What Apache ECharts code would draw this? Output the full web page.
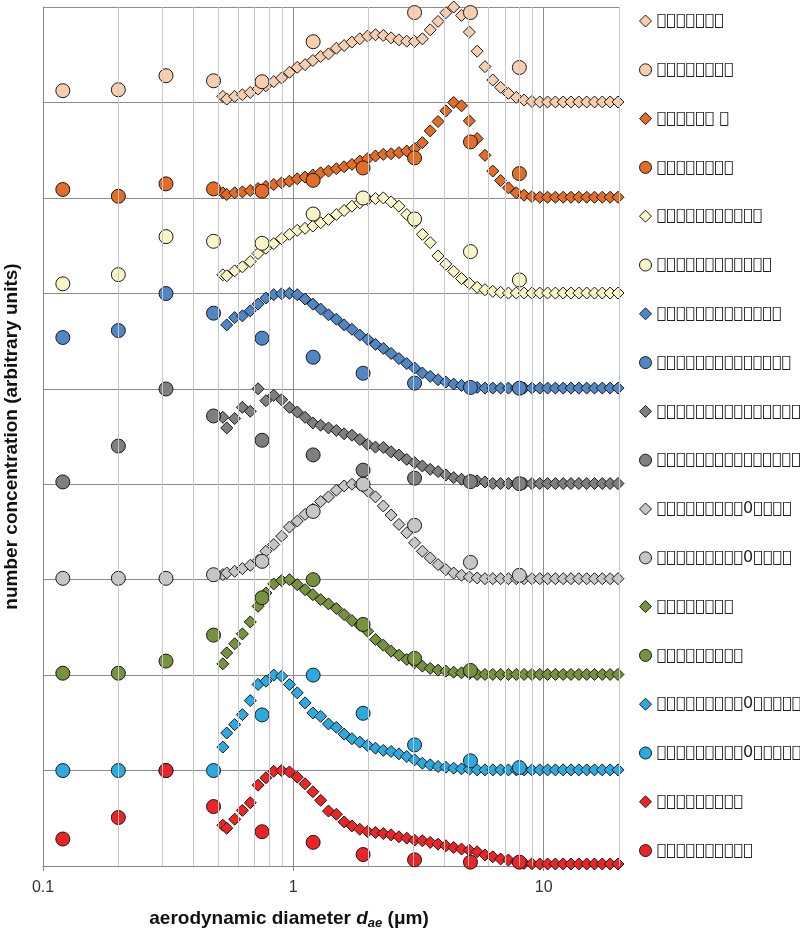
<!DOCTYPE html>
<html>
<head>
<meta charset="utf-8">
<script src="https://cdn.jsdelivr.net/npm/echarts@6/dist/echarts.min.js"></script>
<style>html,body{margin:0;padding:0;background:#fff}#c{width:800px;height:932px}</style>
</head>
<body>
<div id="c"></div>
<script>
// APS channel midpoints (µm) used by the diamond series
const apsSizes = [0.523, 0.542, 0.583, 0.626, 0.673, 0.723, 0.777, 0.835, 0.898, 0.965,
  1.037, 1.114, 1.197, 1.286, 1.382, 1.486, 1.596, 1.715, 1.843, 1.981,
  2.129, 2.288, 2.458, 2.642, 2.839, 3.051, 3.278, 3.523, 3.786, 4.068,
  4.371, 4.698, 5.048, 5.425, 5.829, 6.264, 6.732, 7.234, 7.774, 8.354,
  8.977, 9.647, 10.37, 11.14, 11.97, 12.86, 13.82, 14.86, 15.96, 17.15, 18.43, 19.81];
// impactor stage diameters (µm) used by the circle series
const impSizes = [0.12, 0.2, 0.31, 0.48, 0.75, 1.2, 1.9, 3.05, 5.1, 8.0];

// normalized diamond series (one per band, top to bottom)
const peachD = [0.063, 0.035, 0.063, 0.081, 0.105, 0.14, 0.175, 0.218, 0.256, 0.316, 0.368, 0.396, 0.439, 0.481, 0.509, 0.568, 0.596, 0.632, 0.667, 0.695, 0.709, 0.702, 0.677, 0.656, 0.642, 0.639, 0.667, 0.761, 0.849, 0.94, 1.0, 0.912, 0.737, 0.537, 0.375, 0.235, 0.158, 0.095, 0.053, 0.025, 0.01, 0.005, 0.005, 0.005, 0.005, 0.005, 0.005, 0.005, 0.005, 0.005, 0.005, 0.005];
const orangeD = [0.053, 0.035, 0.053, 0.063, 0.077, 0.098, 0.119, 0.14, 0.158, 0.175, 0.2, 0.218, 0.239, 0.263, 0.281, 0.305, 0.326, 0.351, 0.386, 0.411, 0.439, 0.456, 0.463, 0.474, 0.491, 0.516, 0.579, 0.702, 0.8, 0.912, 1.0, 0.965, 0.807, 0.621, 0.446, 0.281, 0.182, 0.105, 0.053, 0.028, 0.014, 0.007, 0.007, 0.007, 0.007, 0.007, 0.007, 0.007, 0.007, 0.007, 0.007, 0.007];
const yellowD = [0.194, 0.184, 0.236, 0.278, 0.333, 0.417, 0.472, 0.521, 0.573, 0.618, 0.66, 0.681, 0.705, 0.74, 0.774, 0.826, 0.868, 0.913, 0.948, 0.983, 0.993, 1.0, 0.958, 0.913, 0.826, 0.74, 0.618, 0.531, 0.392, 0.306, 0.23, 0.155, 0.104, 0.063, 0.038, 0.021, 0.01, 0.003, 0.003, 0.003, 0.003, 0.003, 0.003, 0.003, 0.003, 0.003, 0.003, 0.003, 0.003, 0.003, 0.003, 0.003];
const blueD = [null, 0.669, 0.746, 0.764, 0.817, 0.887, 0.951, 0.986, 0.995, 1.0, 0.986, 0.94, 0.887, 0.835, 0.775, 0.729, 0.669, 0.623, 0.563, 0.518, 0.465, 0.423, 0.37, 0.317, 0.264, 0.218, 0.165, 0.13, 0.095, 0.07, 0.049, 0.035, 0.025, 0.014, 0.007, 0.007, 0.007, 0.007, 0.007, 0.007, 0.007, 0.007, 0.007, 0.007, 0.007, 0.007, 0.007, 0.007, 0.007, 0.007, 0.007, 0.007];
const darkD = [0.701, 0.59, 0.688, 0.806, 0.764, 1.0, 0.875, 0.931, 0.885, 0.806, 0.757, 0.701, 0.642, 0.618, 0.59, 0.563, 0.528, 0.514, 0.469, 0.417, 0.389, 0.385, 0.34, 0.306, 0.26, 0.226, 0.191, 0.156, 0.132, 0.097, 0.069, 0.052, 0.042, 0.035, 0.024, 0.007, 0.007, 0.007, 0.007, 0.007, 0.007, 0.007, 0.007, 0.007, 0.007, 0.007, 0.007, 0.007, 0.007, 0.007, 0.007, 0.007];
const lightD = [0.053, 0.07, 0.088, 0.116, 0.151, 0.2, 0.298, 0.368, 0.456, 0.551, 0.614, 0.684, 0.737, 0.818, 0.867, 0.937, 0.982, 1.0, 0.993, 0.93, 0.867, 0.772, 0.677, 0.579, 0.491, 0.386, 0.298, 0.228, 0.158, 0.105, 0.07, 0.046, 0.028, 0.018, 0.01, 0.01, 0.01, 0.01, 0.01, 0.01, 0.01, 0.01, 0.01, 0.01, 0.01, 0.01, 0.01, 0.01, 0.01, 0.01, 0.01, 0.01];
const greenD = [0.118, 0.233, 0.328, 0.432, 0.557, 0.721, 0.86, 0.955, 0.99, 1.0, 0.948, 0.895, 0.843, 0.791, 0.746, 0.697, 0.634, 0.571, 0.523, 0.46, 0.373, 0.314, 0.251, 0.209, 0.164, 0.129, 0.094, 0.07, 0.052, 0.042, 0.031, 0.024, 0.017, 0.007, 0.007, 0.007, 0.007, 0.007, 0.007, 0.007, 0.007, 0.007, 0.007, 0.007, 0.007, 0.007, 0.007, 0.007, 0.007, 0.007, 0.007, 0.007];
const cyanD = [0.246, 0.393, 0.481, 0.586, 0.733, 0.902, 0.937, 1.0, 0.989, 0.902, 0.814, 0.709, 0.604, 0.568, 0.488, 0.453, 0.382, 0.333, 0.298, 0.263, 0.235, 0.211, 0.2, 0.175, 0.147, 0.112, 0.077, 0.06, 0.042, 0.035, 0.025, 0.018, 0.014, 0.007, 0.007, 0.007, 0.007, 0.007, 0.007, 0.007, 0.007, 0.007, 0.007, 0.007, 0.007, 0.007, 0.007, 0.007, 0.007, 0.007, 0.007, 0.007];
const redD = [0.427, 0.396, 0.49, 0.583, 0.663, 0.847, 0.924, 0.993, 1.0, 0.986, 0.931, 0.861, 0.778, 0.688, 0.576, 0.542, 0.462, 0.42, 0.385, 0.361, 0.351, 0.34, 0.326, 0.306, 0.292, 0.271, 0.264, 0.247, 0.229, 0.212, 0.194, 0.177, 0.165, 0.149, 0.115, 0.097, 0.073, 0.063, 0.045, 0.028, 0.024, 0.021, 0.021, 0.021, 0.021, 0.021, 0.021, 0.021, 0.021, 0.021, 0.021, 0.021];

// circle series (impactor)
const peachC = [0.123, 0.133, 0.28, 0.227, 0.217, 0.636, null, 0.942, 0.942, 0.366];
const orangeC = [0.088, 0.017, 0.147, 0.094, 0.07, 0.184, 0.314, 0.419, 0.586, 0.255];
const yellowC = [0.10, 0.196, 0.594, 0.545, 0.524, 0.831, 0.999, 0.779, 0.437, 0.14];
const blueC = [0.537, 0.61, 0.998, 0.792, 0.53, 0.331, 0.163, 0.059, 0.014, 0.006];
const darkC = [0.024, 0.40, 0.998, 0.715, 0.461, 0.307, 0.147, 0.063, 0.027, 0.006];
const lightC = [0.014, 0.014, 0.014, 0.052, 0.192, 0.715, 1.0, 0.569, 0.181, 0.045];
const greenC = [0.02, 0.02, 0.147, 0.419, 0.81, 1.0, 0.531, 0.175, 0.049, null];
const cyanC = [0, 0, 0, 0, 0.583, 1.0, 0.6, 0.269, 0.102, 0.031];
const redC = [0.283, 0.508, 1.0, 0.623, 0.359, 0.248, 0.12, 0.065, 0.04, 0.04];

// legend labels (as they appear: unrenderable glyphs)
const seriesNames = [
  '\uE000\uE000\uE000\uE000\uE000\uE000\uE000',
  '\uE001\uE001\uE001\uE001\uE001\uE001\uE001\uE001',
  '\uE002\uE002\uE002\uE002\uE002\uE002 \uE002',
  '\uE003\uE003\uE003\uE003\uE003\uE003\uE003\uE003',
  '\uE004\uE004\uE004\uE004\uE004\uE004\uE004\uE004\uE004\uE004\uE004',
  '\uE005\uE005\uE005\uE005\uE005\uE005\uE005\uE005\uE005\uE005\uE005\uE005',
  '\uE006\uE006\uE006\uE006\uE006\uE006\uE006\uE006\uE006\uE006\uE006\uE006\uE006',
  '\uE007\uE007\uE007\uE007\uE007\uE007\uE007\uE007\uE007\uE007\uE007\uE007\uE007\uE007',
  '\uE008\uE008\uE008\uE008\uE008\uE008\uE008\uE008\uE008\uE008\uE008\uE008\uE008\uE008\uE008\uE008',
  '\uE009\uE009\uE009\uE009\uE009\uE009\uE009\uE009\uE009\uE009\uE009\uE009\uE009\uE009\uE009\uE009',
  '\uE00A\uE00A\uE00A\uE00A\uE00A\uE00A\uE00A\uE00A\uE00A0\uE00A\uE00A\uE00A\uE00A',
  '\uE00B\uE00B\uE00B\uE00B\uE00B\uE00B\uE00B\uE00B\uE00B0\uE00B\uE00B\uE00B\uE00B',
  '\uE00C\uE00C\uE00C\uE00C\uE00C\uE00C\uE00C\uE00C',
  '\uE00D\uE00D\uE00D\uE00D\uE00D\uE00D\uE00D\uE00D\uE00D',
  '\uE00E\uE00E\uE00E\uE00E\uE00E\uE00E\uE00E\uE00E\uE00E0\uE00E\uE00E\uE00E\uE00E\uE00E\uE00E',
  '\uE00F\uE00F\uE00F\uE00F\uE00F\uE00F\uE00F\uE00F\uE00F0\uE00F\uE00F\uE00F\uE00F\uE00F\uE00F',
  '\uE010\uE010\uE010\uE010\uE010\uE010\uE010\uE010\uE010',
  '\uE011\uE011\uE011\uE011\uE011\uE011\uE011\uE011\uE011\uE011'
];
const bandColors = ['#F9CEAE', '#E36C26', '#F8F5C6', '#4F86C6', '#7F7F7F', '#C6C6C6', '#76923C', '#2AAAE1', '#EE2326'];
const diamondSets = [peachD, orangeD, yellowD, blueD, darkD, lightD, greenD, cyanD, redD];
const circleSets = [peachC, orangeC, yellowC, blueC, darkC, lightC, greenC, cyanC, redC];
const minorGrid = [0.2, 0.3, 0.4, 0.5, 0.6, 0.7, 0.8, 0.9, 2, 3, 4, 5, 6, 7, 8, 9, 20];

const series = [];
// helper series for the minor vertical grid lines
series.push({
  type: 'scatter', data: [], silent: true, z: 1, legendHoverLink: false,
  markLine: {
    silent: true, symbol: 'none', label: { show: false }, animation: false,
    lineStyle: { color: '#C8C8C8', width: 1, type: 'solid' },
    data: minorGrid.map(v => ({ xAxis: v }))
  }
});
for (let b = 0; b < 9; b++) {
  const offset = 8 - b;
  const col = bandColors[b];
  series.push({
    name: seriesNames[2 * b], type: 'scatter', symbol: 'diamond', symbolSize: 12, clip: false,
    itemStyle: { color: col, borderColor: '#1a1a1a', borderWidth: 1, opacity: 1 },
    data: apsSizes.map((d, i) => diamondSets[b][i] == null ? null : [d, offset + diamondSets[b][i]]).filter(p => p)
  });
  series.push({
    name: seriesNames[2 * b + 1], type: 'scatter', symbol: 'circle', symbolSize: 14, clip: false,
    itemStyle: { color: col, borderColor: '#1a1a1a', borderWidth: 1, opacity: 1 },
    data: impSizes.map((d, i) => circleSets[b][i] == null ? null : [d, offset + circleSets[b][i]]).filter(p => p)
  });
}

const chart = echarts.init(document.getElementById('c'), null, { renderer: 'canvas' });
chart.setOption({
  animation: false,
  backgroundColor: '#fff',
  grid: { left: 43, top: 7, width: 576, height: 859, containLabel: false, outerBoundsMode: 'none' },
  legend: {
    orient: 'vertical', left: 634, top: 8, itemWidth: 12, itemHeight: 12, itemGap: 32.8,
    itemStyle: { borderColor: '#1a1a1a', borderWidth: 1 },
    textStyle: { fontFamily: 'DejaVu Sans', fontSize: 16, color: '#222', lineHeight: 12 },
    data: seriesNames
  },
  xAxis: {
    type: 'log', logBase: 10, min: 0.1, max: 20,
    name: '{b|aerodynamic diameter }{i|d}{s|ae}{b| (μm)}',
    nameLocation: 'middle', nameGap: 42,
    nameTextStyle: {
      padding: [0, 84, 0, 0],
      rich: {
        b: { fontFamily: 'Liberation Sans', fontWeight: 'bold', fontSize: 19, color: '#111' },
        i: { fontFamily: 'Liberation Sans', fontWeight: 'bold', fontStyle: 'italic', fontSize: 19, color: '#111' },
        s: { fontFamily: 'Liberation Sans', fontWeight: 'bold', fontStyle: 'italic', fontSize: 13, color: '#111', verticalAlign: 'bottom', padding: [9, 0, 0, 0] }
      }
    },
    axisLine: { show: true, lineStyle: { color: '#868686', width: 1 } },
    axisTick: { show: true, customValues: [0.1, 1, 10], length: 5, inside: false, lineStyle: { color: '#868686' } },
    axisLabel: { customValues: [0.1, 1, 10], fontFamily: 'Liberation Sans', fontSize: 16, color: '#333', margin: 14, formatter: v => String(v) },
    splitLine: { show: true, lineStyle: { color: '#8C8C8C', width: 1 } },
    minorTick: { show: false }, minorSplitLine: { show: false }
  },
  yAxis: {
    type: 'value', min: 0, max: 9, interval: 1,
    name: 'number concentration (arbitrary units)', nameLocation: 'middle', nameGap: 22,
    nameTextStyle: { fontFamily: 'Liberation Sans', fontWeight: 'bold', fontSize: 19, color: '#111' },
    axisLine: { show: true, lineStyle: { color: '#868686', width: 1 } },
    axisTick: { show: false },
    axisLabel: { show: false },
    splitLine: { show: true, lineStyle: { color: '#8C8C8C', width: 1 } }
  },
  series: series
});
</script>
</body>
</html>
